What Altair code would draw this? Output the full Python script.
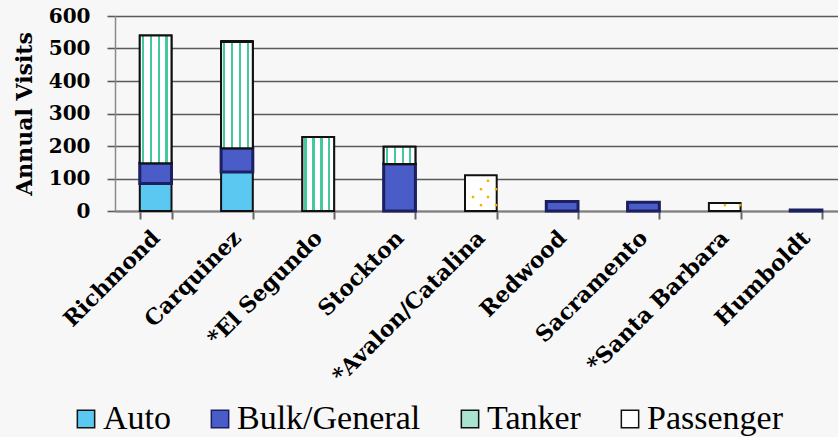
import altair as alt
import pandas as pd

categories = ["Richmond", "Carquinez", "*El Segundo", "Stockton", "*Avalon/Catalina",
              "Redwood", "Sacramento", "*Santa Barbara", "Humboldt"]
series = ["Auto", "Bulk/General", "Tanker", "Passenger"]
auto = [85, 120, 0, 0, 0, 0, 0, 0, 0]
bulk = [62, 73, 0, 145, 0, 29, 27, 0, 3]
tanker = [393, 327, 228, 53, 0, 0, 0, 0, 0]
passenger = [0, 3, 0, 0, 110, 0, 0, 25, 0]

fills = ["#5BC8F2", "#4A5CC8", "#A8E4CF", "#FFFFFF"]
strokes = ["#111111", "#1C2060", "#111111", "#111111"]

rows = []
for s_i, (s, vals) in enumerate(zip(series, [auto, bulk, tanker, passenger])):
    for c, v in zip(categories, vals):
        if v > 0:
            rows.append({"category": c, "series": s, "order": s_i, "value": v})
df = pd.DataFrame(rows)

GREEN = "#45C99A"
stops = [{"offset": 0, "color": "white"}]
for c in [0.10, 0.35, 0.60, 0.84]:
    stops += [{"offset": c - 0.035, "color": "white"},
              {"offset": c - 0.035, "color": GREEN},
              {"offset": c + 0.035, "color": GREEN},
              {"offset": c + 0.035, "color": "white"}]
stops.append({"offset": 1, "color": "white"})
stripe = alt.Gradient(gradient="linear", stops=stops, x1=0, x2=1, y1=0, y2=0)

W, H = 723, 195
xscale = alt.Scale(domain=categories, range=[0, 731.7], paddingInner=0.61, paddingOuter=0.305)
yscale = alt.Scale(domain=[0, 600])

base = alt.Chart(df).transform_stack(
    stack="value", groupby=["category"], as_=["y0", "y1"],
    sort=[alt.SortField("order", order="ascending")]
)

xaxis = alt.Axis(labelAngle=-45, labelAlign="right", labelBaseline="middle",
                 labelFont="DejaVu Serif", labelFontWeight="bold", labelFontSize=22,
                 labelColor="black", labelPadding=15, labelLimit=0, tickBand="extent",
                 tickSize=8, tickColor="#666666", tickWidth=2,
                 domainColor="#808080", domainWidth=2, labelOverlap=False)
yaxis = alt.Axis(values=[0, 100, 200, 300, 400, 500, 600], labelOverlap=False,
                 labelFont="DejaVu Serif", labelFontWeight="bold", labelFontSize=20,
                 labelColor="black", labelPadding=17,
                 titleFont="DejaVu Serif", titleFontWeight="bold", titleFontSize=22,
                 titleColor="black", titlePadding=12,
                 gridColor="#5A5A5A", gridWidth=1.6, tickColor="#5A5A5A", tickSize=8,
                 tickWidth=1.6, domainColor="#8A8A8A", domainWidth=1.5)

xenc = alt.X("category:N", scale=xscale, sort=categories, title=None, axis=xaxis)
yenc = alt.Y("y0:Q", scale=yscale, title="Annual Visits", axis=yaxis)

bars = base.mark_bar(strokeWidth=2).encode(
    x=xenc,
    y=yenc,
    y2="y1:Q",
    color=alt.Color("series:N", scale=alt.Scale(domain=series, range=fills),
                    legend=alt.Legend(title=None, orient="none", direction="horizontal",
                                      legendX=-46, legendY=386, padding=0,
                                      labelFont="Liberation Serif", labelFontSize=34,
                                      labelColor="black", labelOffset=0, columnPadding=32,
                                      labelLimit=0,
                                      symbolType="square", symbolSize=300,
                                      symbolStrokeColor="#111111", symbolStrokeWidth=1.5,
                                      symbolOpacity=1)),
    stroke=alt.Stroke("series:N", scale=alt.Scale(domain=series, range=strokes), legend=None),
)

bulk_edge = base.transform_filter(alt.datum.series == "Bulk/General").mark_bar(
    fill="#4A5CC8", stroke="#1C2060", strokeWidth=3
).encode(x=xenc, y=yenc, y2="y1:Q")

tank = base.transform_filter(alt.datum.series == "Tanker").mark_bar(
    fill=stripe, stroke="#111111", strokeWidth=2
).encode(x=xenc, y=yenc, y2="y1:Q")

dots = base.transform_filter(alt.datum.series == "Passenger").transform_calculate(
    pat="[[7,93],[0,67],[15,67],[-8,43],[7,43],[0,18],[15,18]]"
).transform_flatten(["pat"]).transform_calculate(
    dx="datum.pat[0] + 16", yy="datum.y0 + datum.pat[1]"
).transform_filter("datum.yy < datum.y1 - 3").mark_square(
    size=6, color="#F2B400", opacity=1
).encode(
    x=xenc,
    xOffset=alt.XOffset("dx:Q", scale=None),
    y=alt.Y("yy:Q", scale=yscale, title="Annual Visits", axis=yaxis),
)

chart = alt.layer(bars, bulk_edge, tank, dots).properties(
    width=W, height=H,
    background="#F7F7F7",
    autosize=alt.AutoSizeParams(type="none"),
    padding={"left": 115, "top": 16, "right": 0, "bottom": 226},
).configure_view(strokeWidth=0)

chart.save("out.html", embed_options={"renderer": "svg", "actions": False})
